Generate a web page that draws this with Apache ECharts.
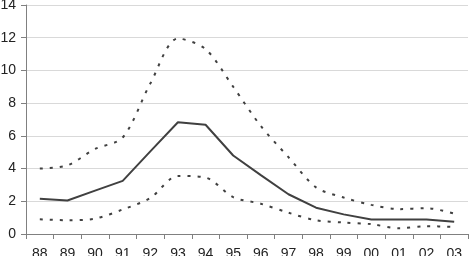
<!DOCTYPE html>
<html>
<head>
<meta charset="utf-8">
<script src="https://cdn.jsdelivr.net/npm/echarts@6/dist/echarts.min.js"></script>
<style>
html, body { margin: 0; padding: 0; background: #fff; }
#chart { width: 472px; height: 256px; }
</style>
</head>
<body>
<div id="chart"></div>
<script>
var years = ['88', '89', '90', '91', '92', '93', '94', '95', '96', '97', '98', '99', '00', '01', '02', '03'];
var mid = [2.15, 2.05, 2.65, 3.25, 5.05, 6.83, 6.68, 4.8, 3.6, 2.43, 1.61, 1.2, 0.88, 0.88, 0.88, 0.75];
var upper = [4.0, 4.2, 5.2, 5.9, 9.2, 11.95, 11.3, 9.0, 6.6, 4.7, 2.85, 2.23, 1.78, 1.52, 1.58, 1.25];
var lower = [0.9, 0.84, 0.94, 1.5, 2.2, 3.55, 3.45, 2.25, 1.85, 1.3, 0.84, 0.7, 0.6, 0.35, 0.48, 0.43];

var font = 'Liberation Sans, Arial, sans-serif';

var option = {
	animation : false,
	grid : {
		left : 26,
		right : 4,
		top : 5,
		bottom : 22,
		outerBoundsMode : 'none',
		containLabel : false
	},
	xAxis : {
		type : 'category',
		data : years,
		boundaryGap : true,
		axisLine : {
			lineStyle : { color : '#808080', width : 1 }
		},
		axisTick : {
			show : true,
			length : 5,
			lineStyle : { color : '#808080' }
		},
		axisLabel : {
			color : '#222',
			fontSize : 14,
			fontFamily : font,
			margin : 13
		}
	},
	yAxis : {
		type : 'value',
		min : 0,
		max : 14,
		interval : 2,
		axisLine : {
			show : true,
			lineStyle : { color : '#808080', width : 1 }
		},
		axisTick : {
			show : true,
			length : 5,
			lineStyle : { color : '#808080' }
		},
		axisLabel : {
			color : '#222',
			fontSize : 14,
			fontFamily : font,
			margin : 10
		},
		splitLine : {
			lineStyle : { color : '#d9d9d9', width : 1 }
		}
	},
	series : [ {
		name : 'upper',
		type : 'line',
		data : upper,
		symbol : 'none',
		smooth : 0.3,
		lineStyle : { color : '#404040', width : 2, type : [3, 7] }
	}, {
		name : 'mid',
		type : 'line',
		data : mid,
		symbol : 'none',
		lineStyle : { color : '#404040', width : 2 }
	}, {
		name : 'lower',
		type : 'line',
		data : lower,
		symbol : 'none',
		smooth : 0.3,
		lineStyle : { color : '#404040', width : 2, type : [3, 7] }
	} ]
};

var myChart = echarts.init(document.getElementById('chart'));
myChart.setOption(option, true);
</script>
</body>
</html>
